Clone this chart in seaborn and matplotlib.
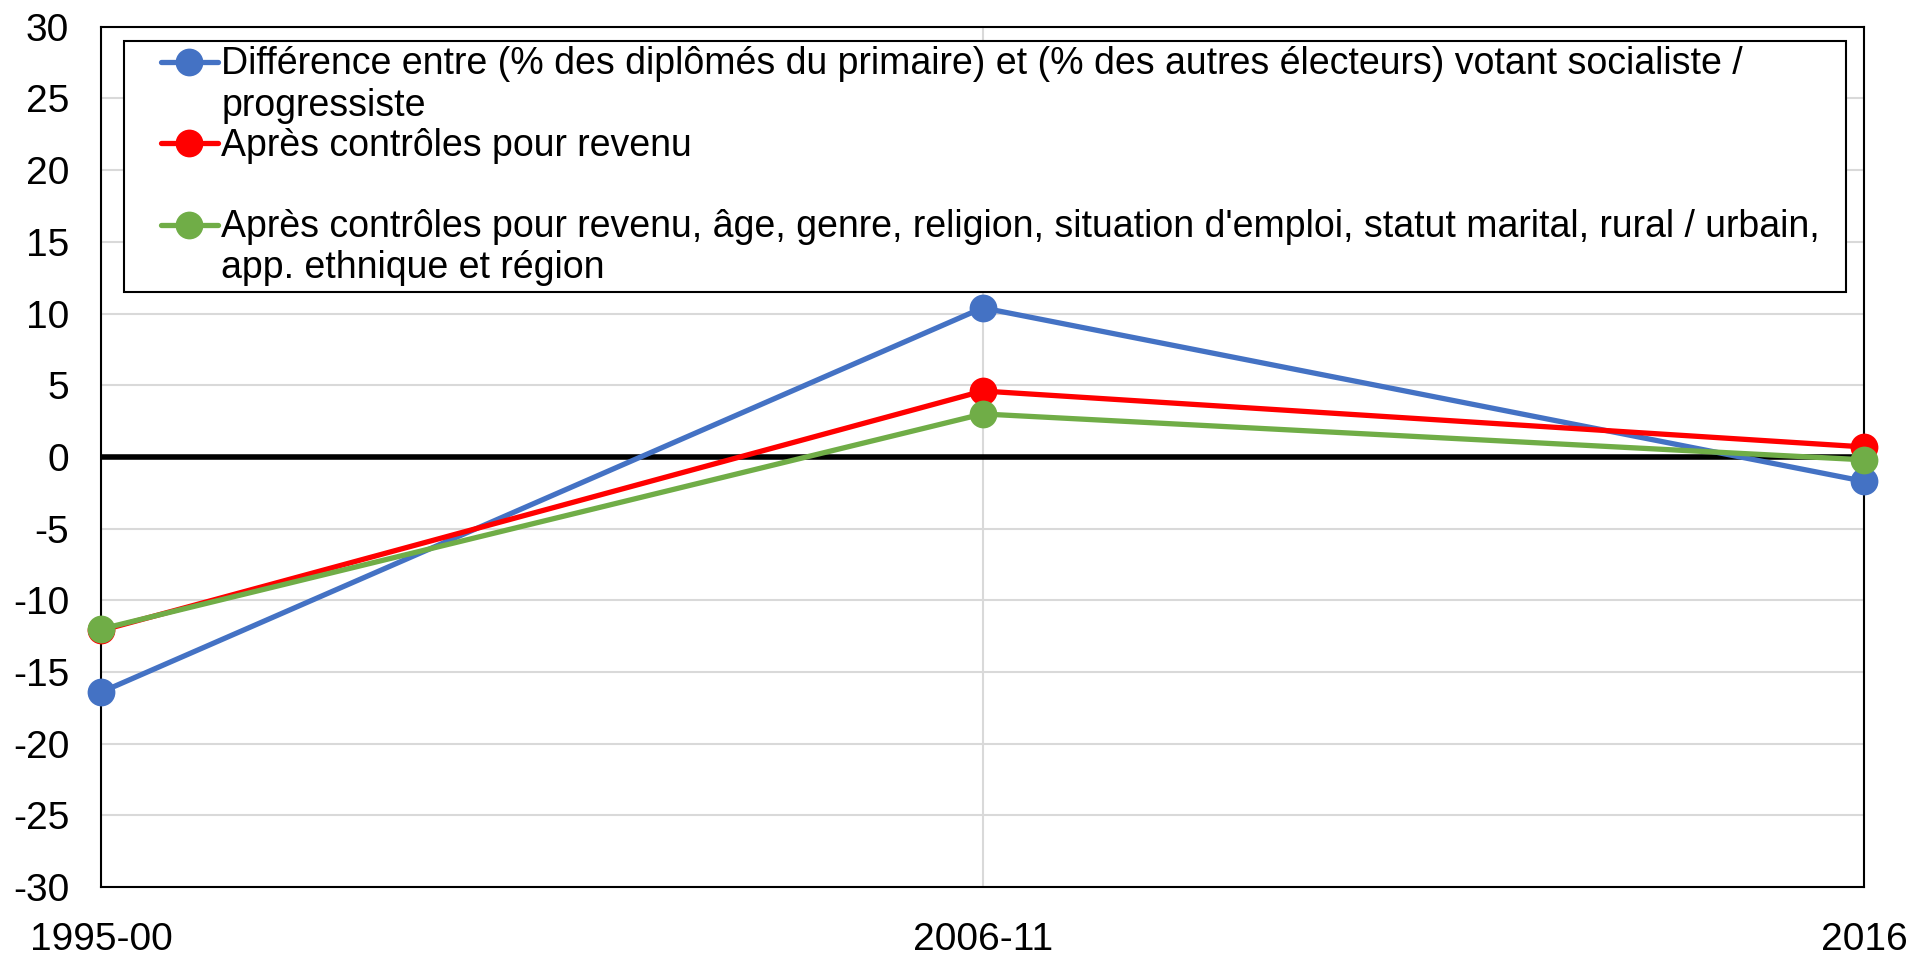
import numpy as np
import pandas as pd
import matplotlib
matplotlib.use("Agg")
import matplotlib.pyplot as plt
import seaborn as sns
from matplotlib.offsetbox import DrawingArea

# Data
periods = ["1995-00", "2006-11", "2016"]
diff_raw = [-16.4, 10.4, -1.7]
diff_income = [-12.1, 4.6, 0.7]
diff_all = [-12.0, 3.0, -0.2]

labels = [
    "Différence entre (% des diplômés du primaire) et (% des autres électeurs) votant socialiste /\nprogressiste",
    "Après contrôles pour revenu\n ",
    "Après contrôles pour revenu, âge, genre, religion, situation d'emploi, statut marital, rural / urbain,\napp. ethnique et région",
]
colors = ["#4472C4", "#FF0000", "#70AD47"]

df = pd.DataFrame({
    "period": periods * 3,
    "x": list(range(len(periods))) * 3,
    "value": diff_raw + diff_income + diff_all,
    "series": [labels[0]] * 3 + [labels[1]] * 3 + [labels[2]] * 3,
})

sns.set_style("white")
plt.rcParams['font.family'] = ['Liberation Sans', 'DejaVu Sans']
plt.rcParams['axes.unicode_minus'] = False
plt.rcParams['text.color'] = 'black'
plt.rcParams['xtick.color'] = 'black'
plt.rcParams['ytick.color'] = 'black'

fig = plt.figure(figsize=(19.1, 9.57), dpi=100)
ax = fig.add_axes([0.053, 0.073, 0.923, 0.899])

# grid
for yv in range(-30, 31, 5):
    ax.axhline(yv, color="#D9D9D9", lw=1.5, zorder=0)
for xv in range(len(periods)):
    ax.axvline(xv, color="#D9D9D9", lw=1.5, zorder=0)
ax.axhline(0, color="black", lw=4, zorder=1)

sns.lineplot(data=df, x="x", y="value", hue="series", palette=colors,
             marker="o", markersize=20, markeredgewidth=0, linewidth=3.8,
             ax=ax, zorder=3, clip_on=False)

ax.set_xlim(0, len(periods) - 1)
ax.set_ylim(-30, 30)
ax.set_yticks(range(-30, 31, 5))
ax.set_xticks(range(len(periods)))
ax.set_xticklabels(periods)
ax.tick_params(axis="both", labelsize=28, length=0)
ax.tick_params(axis="x", pad=25)
ax.tick_params(axis="y", pad=23)
ax.set_xlabel("")
ax.set_ylabel("")
for s in ax.spines.values():
    s.set_color("black")
    s.set_linewidth(1.5)

leg = ax.legend(loc="upper left", bbox_to_anchor=(0.013, 0.984), borderaxespad=0,
                fontsize=27, frameon=True, fancybox=False, edgecolor="black",
                framealpha=1, labelspacing=0.1, handlelength=1.5, handletextpad=0.1,
                handleheight=1.15, borderpad=0.15)
leg.get_frame().set_linewidth(1.5)
# horizontal padding inside the legend box, handle aligned with first text line
for col in leg._legend_handle_box.get_children():
    for hp in col.get_children():
        hp.align = "top"
        hp._children.insert(0, DrawingArea(20, 1))
        hp._children.append(DrawingArea(12, 1))

fig.savefig("out.png", dpi=100)
